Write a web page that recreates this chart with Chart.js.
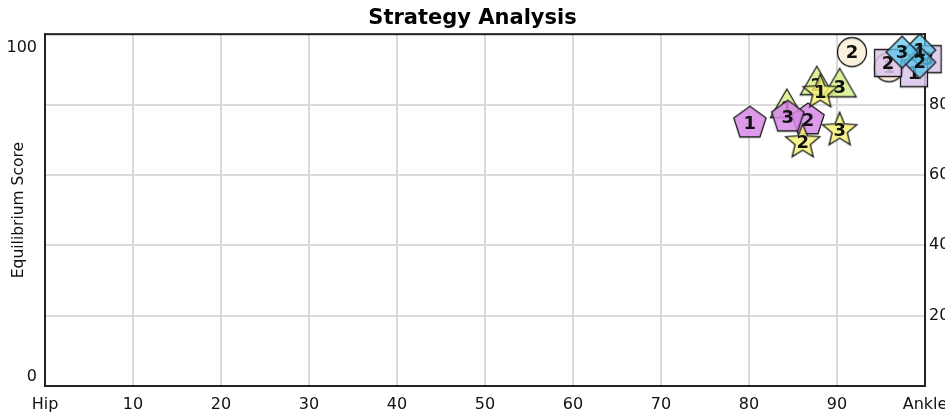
<!DOCTYPE html>
<html>
<head>
<meta charset="utf-8">
<script src="https://cdn.jsdelivr.net/npm/chart.js@4.4.0/dist/chart.umd.min.js"></script>
<style>
  html, body { margin: 0; padding: 0; overflow: hidden; background: #fff; }
  #wrap { width: 945px; height: 414px; }
</style>
</head>
<body>
<div id="wrap"><canvas id="strategyChart"></canvas></div>
<script>
// tick labels
var xTickLabels = ['Hip', '10', '20', '30', '40', '50', '60', '70', '80', '90', 'Ankle'];
var leftTickValues = [0, 100];
var rightTickValues = [20, 40, 60, 80];

// series
var triangleX = [84.3, 87.7, 90.3];
var triangleY = [79.0, 85.5, 84.9];
var triangleLbl = ['1', '2', '3'];

var circleX = [95.9, 91.7];
var circleY = [90.6, 94.9];
var circleLbl = ['1', '2'];

var pentagonX = [80.1, 86.7, 84.4];
var pentagonY = [74.7, 75.6, 76.4];
var pentagonLbl = ['1', '2', '3'];

var starX = [88.1, 86.1, 90.3];
var starY = [83.5, 69.3, 72.7];
var starLbl = ['1', '2', '3'];

var squareX = [100.3, 98.75, 95.8];
var squareY = [92.9, 88.9, 91.8];
var squareLbl = ['3', '1', '2'];

var diamondX = [99.4, 99.4, 97.4];
var diamondY = [95.5, 92.0, 94.9];
var diamondLbl = ['1', '2', '3'];

var FONT = "'DejaVu Sans', Verdana, sans-serif";

function makeShape(kind, fill) {
  var c = document.createElement('canvas');
  c.width = 44; c.height = 44;
  var g = c.getContext('2d');
  g.translate(22, 22);
  g.beginPath();
  var i, a, r;
  if (kind == 'pentagon') {
    for (i = 0; i < 5; i++) {
      a = -Math.PI / 2 + i * 2 * Math.PI / 5;
      g.lineTo(17 * Math.cos(a), 17 * Math.sin(a));
    }
  } else if (kind == 'star') {
    for (i = 0; i < 10; i++) {
      a = -Math.PI / 2 + i * Math.PI / 5;
      r = i % 2 ? 8 : 18;
      g.lineTo(r * Math.cos(a), r * Math.sin(a));
    }
  } else if (kind == 'triangle') {
    g.moveTo(0, -19);
    g.lineTo(16.5, 9.5);
    g.lineTo(-16.5, 9.5);
  } else if (kind == 'circle') {
    g.arc(0, 0, 14.5, 0, Math.PI * 2);
  } else if (kind == 'square') {
    g.rect(-13.5, -13.5, 27, 27);
  } else if (kind == 'diamond') {
    g.moveTo(0, -16); g.lineTo(16, 0); g.lineTo(0, 16); g.lineTo(-16, 0);
  }
  g.closePath();
  g.fillStyle = fill;
  g.fill();
  g.strokeStyle = '#1a1a1a';
  g.lineWidth = 1.3;
  g.stroke();
  return c;
}

function pts(xs, ys) {
  return xs.map(function (x, i) { return { x: x, y: ys[i] }; });
}

function series(name, xs, ys, lbls, kind, fill, order) {
  return {
    label: name,
    data: pts(xs, ys),
    pointLabels: lbls,
    pointStyle: makeShape(kind, fill),
    pointRadius: 15,
    clip: false,
    order: order
  };
}

// draws the 1/2/3 labels right after each dataset, so later shapes cover them
var pointLabelPlugin = {
  id: 'pointLabels',
  afterDatasetDraw: function (chart, args) {
    var ds = chart.data.datasets[args.index];
    var ctx = chart.ctx;
    ctx.save();
    ctx.font = 'bold 18px ' + FONT;
    ctx.fillStyle = '#111';
    ctx.textAlign = 'center';
    ctx.textBaseline = 'middle';
    args.meta.data.forEach(function (el, i) {
      ctx.fillText(ds.pointLabels[i], el.x, el.y + 1);
    });
    ctx.restore();
  }
};

// frame round the plot and the left 0 / 100 labels kept inside it
var framePlugin = {
  id: 'frame',
  beforeDatasetsDraw: function (chart) {
    var a = chart.chartArea, ctx = chart.ctx;
    ctx.save();
    ctx.strokeStyle = '#222';
    ctx.lineWidth = 2;
    ctx.strokeRect(a.left, a.top, a.right - a.left, a.bottom - a.top);
    ctx.restore();
  },
  afterDraw: function (chart) {
    var ctx = chart.ctx, ys = chart.scales.y;
    ctx.save();
    ctx.font = '16px ' + FONT;
    ctx.fillStyle = '#111';
    ctx.textAlign = 'right';
    ctx.textBaseline = 'middle';
    leftTickValues.forEach(function (v) {
      var py = ys.getPixelForValue(v);
      py += v == 100 ? 14 : -9;
      ctx.fillText(String(v), 37, py);
    });
    ctx.restore();
  }
};

var ctx = document.getElementById('strategyChart').getContext('2d');
var chart = new Chart(ctx, {
  type: 'scatter',
  data: {
    datasets: [
      series('Triangle', triangleX, triangleY, triangleLbl, 'triangle', 'rgba(214,240,140,0.85)', 6),
      series('Circle', circleX, circleY, circleLbl, 'circle', 'rgba(252,239,220,0.9)', 5),
      series('Pentagon', pentagonX, pentagonY, pentagonLbl, 'pentagon', 'rgba(215,136,230,0.85)', 4),
      series('Star', starX, starY, starLbl, 'star', 'rgba(246,242,122,0.85)', 3),
      series('Square', squareX, squareY, squareLbl, 'square', 'rgba(220,197,234,0.85)', 2),
      series('Diamond', diamondX, diamondY, diamondLbl, 'diamond', 'rgba(92,199,239,0.75)', 1)
    ]
  },
  plugins: [pointLabelPlugin, framePlugin],
  options: {
    responsive: true,
    maintainAspectRatio: false,
    animation: false,
    layout: { padding: 0 },
    plugins: {
      legend: { display: false },
      tooltip: { enabled: false },
      title: {
        display: true,
        text: 'Strategy Analysis',
        color: '#000',
        font: { family: FONT, size: 21, weight: 'bold' },
        padding: { top: 6, bottom: 3 }
      }
    },
    scales: {
      x: {
        type: 'linear',
        min: 0,
        max: 100,
        ticks: {
          stepSize: 10,
          color: '#111',
          padding: 9,
          maxRotation: 0,
          font: { family: FONT, size: 16 },
          callback: function (v) { return xTickLabels[Math.round(v / 10)]; }
        },
        grid: { color: '#dadada', lineWidth: 2, drawTicks: false },
        border: { color: '#222', width: 2 },
        afterFit: function (s) {
          s.height = 28;
          s.paddingLeft = 0;
          s.paddingRight = 0;
        }
      },
      y: {
        position: 'left',
        min: 0,
        max: 100,
        ticks: { stepSize: 20, display: false },
        grid: { color: '#dadada', lineWidth: 2, drawTicks: false },
        border: { color: '#222', width: 2 },
        title: {
          display: true,
          text: 'Equilibrium Score',
          color: '#111',
          font: { family: FONT, size: 15.5 },
          padding: { top: 10, bottom: 0 }
        },
        afterFit: function (s) { s.width = 45; }
      },
      y2: {
        position: 'right',
        min: 0,
        max: 100,
        ticks: {
          stepSize: 20,
          color: '#111',
          padding: 4,
          font: { family: FONT, size: 16 },
          callback: function (v) { return rightTickValues.indexOf(v) >= 0 ? String(v) : ''; }
        },
        grid: { display: false, drawTicks: false },
        border: { color: '#222', width: 2 },
        afterFit: function (s) {
          s.width = 20;
          s.paddingTop = 0;
          s.paddingBottom = 0;
        }
      }
    }
  }
});
</script>
</body>
</html>
